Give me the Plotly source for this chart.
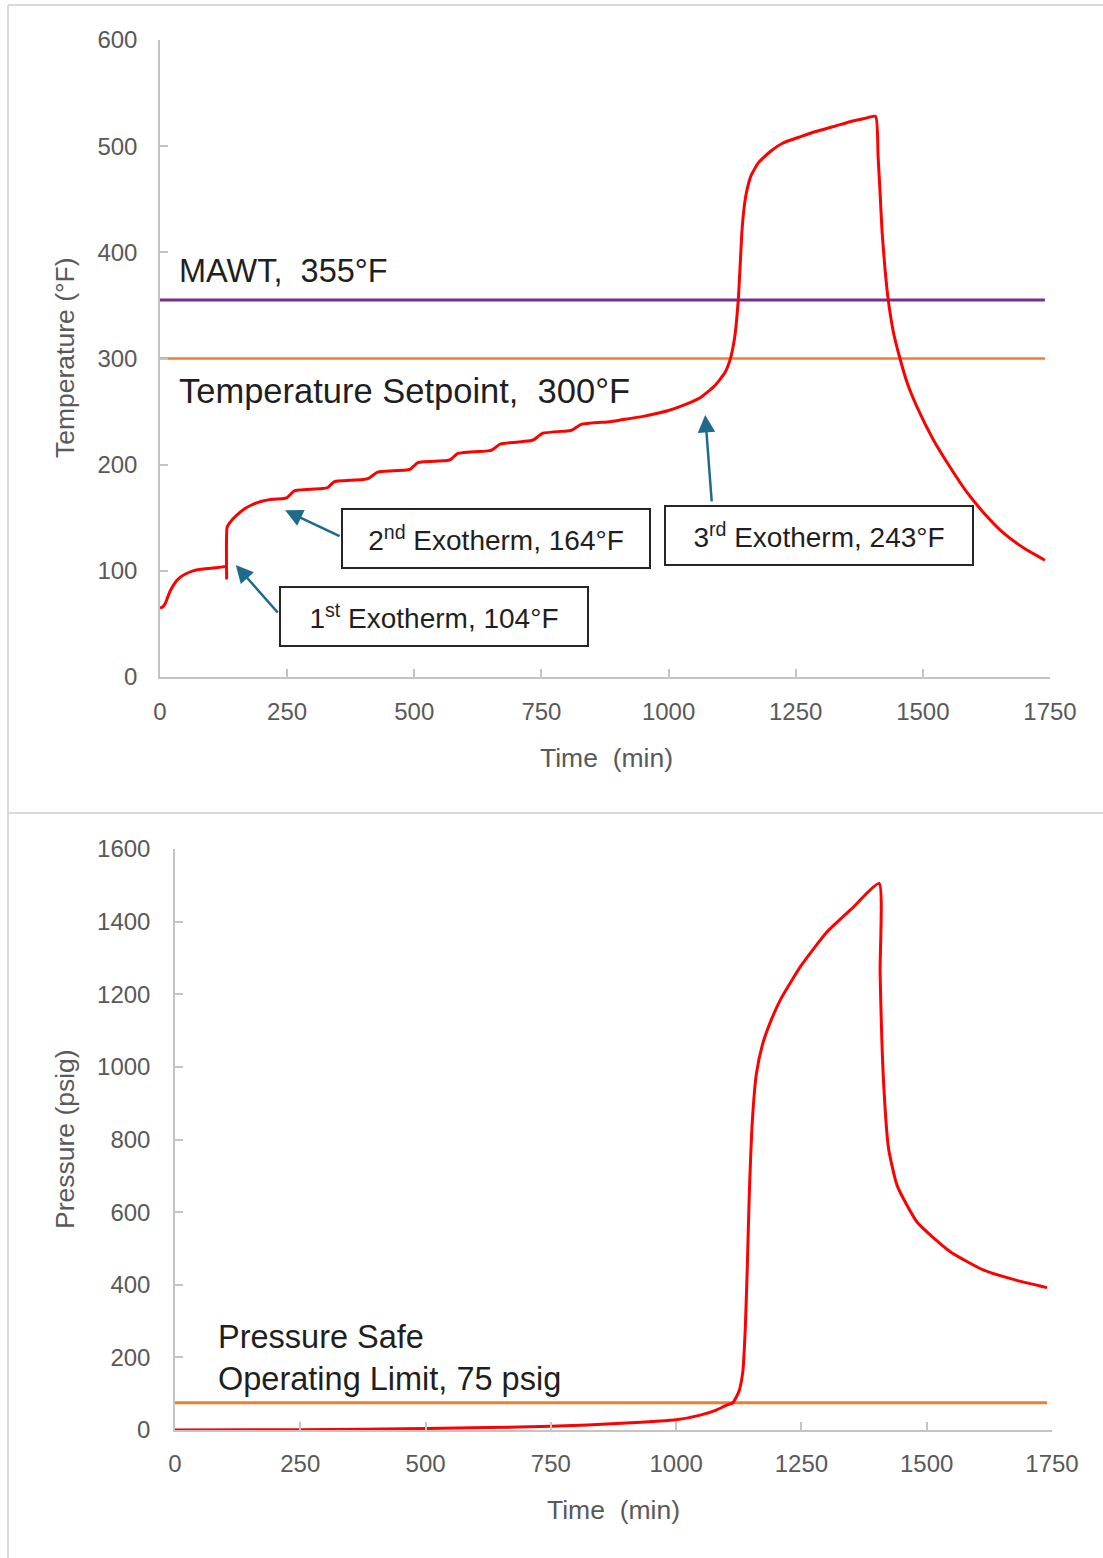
import plotly.graph_objects as go

# ---------------- data ----------------
temp_time = [0, 5, 10, 15, 20, 30, 40, 50, 65, 80, 100, 120, 130, 131, 132, 140, 150, 165, 180,
             200, 220, 240, 250, 265, 320, 330, 343, 400, 410, 428, 485, 493, 507, 565, 572, 585,
             645, 653, 670, 728, 735, 752, 805, 812, 828, 885, 905, 950, 1000, 1030, 1062, 1090,
             1110, 1121, 1130, 1137, 1141, 1144, 1148, 1153, 1162, 1176, 1200, 1225, 1260, 1291,
             1325, 1357, 1385, 1407, 1412, 1416, 1420, 1426, 1432, 1442, 1455, 1470, 1488, 1520,
             1553, 1585, 1619, 1660, 1700, 1740]
temp_values = [65, 66, 69, 75, 81, 89, 94, 97, 100, 101.5, 102.5, 103.5, 104, 93, 141, 147, 152,
               158, 162, 165.5, 167.5, 168, 169, 175.5, 177.5, 178.5, 184, 186, 187, 193, 195,
               196, 202, 204, 205, 210.5, 213, 214, 219.5, 222.5, 223.5, 229.5, 232, 233, 238,
               240.5, 242, 245.5, 251, 256, 263, 274, 286, 299, 320, 355, 390, 418, 440, 456, 472,
               484, 495, 503, 509, 514, 518.5, 523, 526, 528, 490, 455, 418, 382, 355, 325, 300,
               276, 255, 224, 198, 175, 155, 135, 121, 110]

press_time = [0, 250, 500, 750, 900, 1000, 1048, 1080, 1100, 1113, 1125, 1133, 1138, 1142, 1146,
              1152, 1160, 1172, 1190, 1210, 1250, 1300, 1350, 1405, 1407, 1414, 1424, 1441, 1481,
              1547, 1614, 1680, 1740]
press_values = [0, 1, 4, 10, 19, 28, 41, 55, 68, 75, 105, 160, 280, 450, 650, 850, 980, 1060,
                1130, 1190, 1280, 1370, 1435, 1505, 1260, 956, 774, 673, 572, 491, 440, 412, 392]

MAWT = 355
SETPOINT = 300
P_LIMIT = 75
LIMIT_LINE_X = [0, 1740]

x_ticks = [0, 250, 500, 750, 1000, 1250, 1500, 1750]
temp_ticks = [0, 100, 200, 300, 400, 500, 600]
press_ticks = [0, 200, 400, 600, 800, 1000, 1200, 1400, 1600]

# ---------------- figure ----------------
W, H = 1103, 1558
FONT = "Liberation Sans, Arial, sans-serif"
AX_GRAY = "#c4c4c4"
TICK_GRAY = "#595959"
TXT = "#1f1f1f"
ARROW = "#1f6a8a"


def px_x(p):
    return p / W


def px_y(p):
    return 1 - p / H


fig = go.Figure()

fig.add_trace(go.Scatter(x=LIMIT_LINE_X, y=[MAWT, MAWT], mode="lines",
                         line=dict(color="#7b2d8e", width=3), xaxis="x", yaxis="y"))
fig.add_trace(go.Scatter(x=LIMIT_LINE_X, y=[SETPOINT, SETPOINT], mode="lines",
                         line=dict(color="#ed7d31", width=2.5), xaxis="x", yaxis="y"))
fig.add_trace(go.Scatter(x=temp_time, y=temp_values, mode="lines",
                         line=dict(color="#ff0000", width=3, shape="spline", smoothing=0.5),
                         xaxis="x", yaxis="y"))

fig.add_trace(go.Scatter(x=LIMIT_LINE_X, y=[P_LIMIT, P_LIMIT], mode="lines",
                         line=dict(color="#ed7d31", width=3), xaxis="x2", yaxis="y2"))
fig.add_trace(go.Scatter(x=press_time, y=press_values, mode="lines",
                         line=dict(color="#ff0000", width=3, shape="spline", smoothing=0.5),
                         xaxis="x2", yaxis="y2"))

axis_common = dict(showline=True, linecolor=AX_GRAY, linewidth=1.5, ticks="inside",
                   ticklen=8, tickcolor=AX_GRAY, tickwidth=1.5, showgrid=False,
                   zeroline=False, tickfont=dict(family=FONT, size=24, color=TICK_GRAY),
                   fixedrange=True, automargin=False)

fig.update_layout(
    width=W, height=H,
    margin=dict(l=0, r=0, t=0, b=0, pad=0, autoexpand=False),
    paper_bgcolor="white", plot_bgcolor="white",
    showlegend=False,
    xaxis=dict(domain=[px_x(160), px_x(1050)], range=[0, 1750], tickvals=x_ticks,
               anchor="y", ticklabelstandoff=12, **axis_common),
    yaxis=dict(domain=[px_y(677), px_y(40)], range=[0, 600], tickvals=temp_ticks,
               anchor="x", ticklabelstandoff=16, **axis_common),
    xaxis2=dict(domain=[px_x(175), px_x(1052)], range=[0, 1750], tickvals=x_ticks,
                anchor="y2", ticklabelstandoff=11, **axis_common),
    yaxis2=dict(domain=[px_y(1430), px_y(849)], range=[0, 1600], tickvals=press_ticks,
                anchor="x2", ticklabelstandoff=18, **axis_common),
)

# panel borders
border = dict(color="#d9d9d9", width=2)
fig.add_shape(type="line", xref="paper", yref="paper", x0=px_x(8), x1=1, y0=px_y(5), y1=px_y(5), line=border)
fig.add_shape(type="line", xref="paper", yref="paper", x0=px_x(8), x1=px_x(8), y0=0, y1=px_y(5), line=border)
fig.add_shape(type="line", xref="paper", yref="paper", x0=px_x(8), x1=1, y0=px_y(813), y1=px_y(813), line=border)

annots = []
title_font = dict(family=FONT, size=26.5, color=TICK_GRAY)
annots.append(dict(text="Time  (min)", xref="paper", yref="paper", x=px_x(607), y=px_y(758),
                   showarrow=False, font=title_font, xanchor="center", yanchor="middle"))
annots.append(dict(text="Time  (min)", xref="paper", yref="paper", x=px_x(613), y=px_y(1510),
                   showarrow=False, font=title_font, xanchor="center", yanchor="middle"))
annots.append(dict(text="Temperature (°F)", xref="paper", yref="paper", x=px_x(65), y=px_y(358),
                   showarrow=False, font=title_font, textangle=-90, xanchor="center", yanchor="middle"))
annots.append(dict(text="Pressure (psig)", xref="paper", yref="paper", x=px_x(65), y=px_y(1139),
                   showarrow=False, font=title_font, textangle=-90, xanchor="center", yanchor="middle"))

big_font = dict(family=FONT, size=32.5, color=TXT)
annots.append(dict(text="MAWT,  355°F", xref="x", yref="y", x=33, y=382, showarrow=False,
                   font=big_font, xanchor="left", yanchor="middle"))
annots.append(dict(text="Temperature Setpoint,  300°F", xref="x", yref="y", x=33, y=269,
                   showarrow=False, font=dict(family=FONT, size=34.5, color=TXT),
                   xanchor="left", yanchor="middle"))
annots.append(dict(text="Pressure Safe<br>Operating Limit, 75 psig", xref="x2", yref="y2", x=82,
                   y=198, showarrow=False, font=big_font, xanchor="left", yanchor="middle",
                   align="left"))

box_font = dict(family=FONT, size=28, color=TXT)
boxes = [
    ("1<sup>st</sup> Exotherm, 104°F", 538.7, 57.0),
    ("2<sup>nd</sup> Exotherm, 164°F", 661.6, 130.9),
    ("3<sup>rd</sup> Exotherm, 243°F", 1295.7, 133.3),
]
for text, bx, by in boxes:
    annots.append(dict(text=text, xref="x", yref="y", x=bx, y=by, showarrow=False,
                       font=box_font, xanchor="center", yanchor="middle", width=304,
                       height=55, align="center", valign="middle", bordercolor="#262626",
                       borderwidth=2, borderpad=1, bgcolor="white"))

arrows = [
    (149, 105.5, 234, 59.3),
    (246, 157, 356, 132),
    (1072, 246.8, 1085, 164),
]
for tx, ty, sx, sy in arrows:
    annots.append(dict(text="", xref="x", yref="y", x=tx, y=ty, axref="x", ayref="y", ax=sx,
                       ay=sy, showarrow=True, arrowhead=2, arrowsize=1.4, arrowwidth=2.5,
                       arrowcolor=ARROW, standoff=0, startstandoff=0))

fig.update_layout(annotations=annots)

fig.write_html("out.html", config={"displayModeBar": False},
               post_script="document.body.style.margin='0';document.body.style.overflow='hidden';")
